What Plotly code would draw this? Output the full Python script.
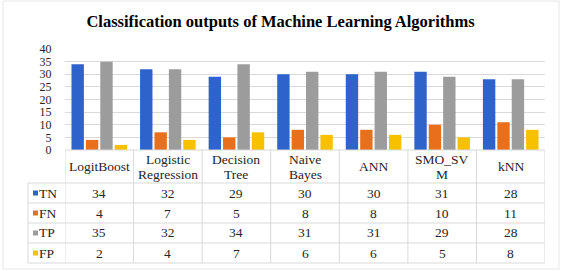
import plotly.graph_objects as go

categories = ["LogitBoost", "Logistic\nRegression", "Decision\nTree", "Naive\nBayes", "ANN", "SMO_SV\nM", "kNN"]
series_names = ["TN", "FN", "TP", "FP"]
TN = [34, 32, 29, 30, 30, 31, 28]
FN = [4, 7, 5, 8, 8, 10, 11]
TP = [35, 32, 34, 31, 31, 29, 28]
FP = [2, 4, 7, 6, 6, 5, 8]
series_values = [TN, FN, TP, FP]
colors = ["#2F63CC", "#E8701C", "#9C9C9C", "#F8C100"]
y_ticks = [0, 5, 10, 15, 20, 25, 30, 35, 40]

W, H = 561, 271
L, R, T, B = 65, 545, 49, 150  # plot area in pixels
FONT = "Liberation Serif"
LINE = "#D9D9D9"

def px_x(px):
    return (px - L) / (R - L)

def px_y(py):
    return (B - py) / (B - T)

fig = go.Figure()
xs = list(range(len(categories)))
for name, vals, col in zip(series_names, series_values, colors):
    fig.add_trace(go.Bar(x=xs, y=vals, name=name, marker=dict(color=col, line=dict(width=0))))

shapes = []
annotations = []

header_top, header_bot = 150, 183
row_h = 20
rows_top = [header_bot + i * row_h for i in range(len(series_names))]
table_bot = header_bot + row_h * len(series_names)
label_left = 28

def hline(py, x0px, x1px):
    shapes.append(dict(type="line", xref="paper", yref="paper", x0=px_x(x0px), x1=px_x(x1px),
                       y0=px_y(py), y1=px_y(py), line=dict(color=LINE, width=1)))

hline(header_top, L, R)
for i in range(len(series_names) + 1):
    hline(header_bot + i * row_h, label_left, R)
for i in range(len(categories) + 1):
    shapes.append(dict(type="line", xref="x", yref="paper", x0=i - 0.5, x1=i - 0.5,
                       y0=px_y(header_top), y1=px_y(table_bot), line=dict(color=LINE, width=1)))
shapes.append(dict(type="line", xref="paper", yref="paper", x0=px_x(label_left), x1=px_x(label_left),
                   y0=px_y(header_bot), y1=px_y(table_bot), line=dict(color=LINE, width=1)))
shapes.append(dict(type="rect", xref="paper", yref="paper", x0=px_x(3), x1=px_x(559),
                   y0=px_y(1), y1=px_y(269), line=dict(color="#E6E6E6", width=1)))

header_c = (header_top + header_bot) / 2
for i, cat in enumerate(categories):
    lines = cat.split("\n")
    n = len(lines)
    for j, ln in enumerate(lines):
        cy = header_c + (j - (n - 1) / 2) * 15
        annotations.append(dict(text=ln, x=i, xref="x", y=px_y(cy), yref="paper",
                                showarrow=False, xanchor="center", yanchor="middle",
                                font=dict(family=FONT, size=13.5, color="#262626")))

for r, (name, vals, col) in enumerate(zip(series_names, series_values, colors)):
    cy = rows_top[r] + row_h / 2
    shapes.append(dict(type="rect", xref="paper", yref="paper", x0=px_x(33), x1=px_x(38),
                       y0=px_y(cy - 2.5), y1=px_y(cy + 2.5), fillcolor=col, line=dict(width=0)))
    annotations.append(dict(text=name, x=px_x(37), xref="paper", y=px_y(cy), yref="paper",
                            showarrow=False, xanchor="left", yanchor="middle",
                            font=dict(family=FONT, size=13.5, color="#262626")))
    for i, v in enumerate(vals):
        annotations.append(dict(text=str(v), x=i, xref="x", y=px_y(cy), yref="paper",
                                showarrow=False, xanchor="center", yanchor="middle",
                                font=dict(family=FONT, size=13.5, color="#262626")))

fig.update_layout(
    width=W, height=H,
    margin=dict(l=L, r=W - R, t=T, b=H - B, pad=0),
    paper_bgcolor="white", plot_bgcolor="white",
    showlegend=False,
    barmode="group", bargap=0.16, bargroupgap=0.14,
    title=dict(text="<b>Classification outputs of Machine Learning Algorithms</b>",
               x=0.5, xref="container", xanchor="center",
               y=1 - 21 / H, yref="container", yanchor="middle",
               font=dict(family=FONT, size=16.5, color="#000000")),
    xaxis=dict(range=[-0.5, len(categories) - 0.5], showticklabels=False, showgrid=False,
               zeroline=False, showline=False, ticks=""),
    yaxis=dict(range=[0, 40], tickvals=y_ticks, showgrid=True, gridcolor=LINE, gridwidth=1,
               zeroline=False, showline=False, ticks="outside", ticklen=10, tickcolor="rgba(0,0,0,0)",
               tickfont=dict(family=FONT, size=12, color="#262626")),
    shapes=shapes, annotations=annotations,
)

fig.write_html("out.html")
